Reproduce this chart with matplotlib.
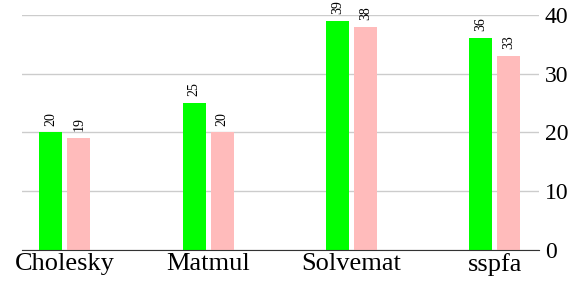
import numpy as np
from matplotlib import pyplot as plt

# data
categories = ['Cholesky', 'Matmul', 'Solvemat', 'sspfa']
green_vals = [20, 25, 39, 36]
pink_vals = [19, 20, 38, 33]

plt.rcParams['font.family'] = ['Liberation Serif', 'DejaVu Serif']

fig = plt.figure(figsize=(5.76, 2.87), dpi=100)
ax = fig.add_axes([0.038, 0.129, 0.898, 0.819])

x = np.arange(len(categories))
w = 0.16
off = 0.098

b1 = ax.bar(x - off, green_vals, w, color='#00ff00', zorder=3)
b2 = ax.bar(x + off, pink_vals, w, color='#ffbbbb', zorder=3)

# value labels above bars
for bars in (b1, b2):
    for b in bars:
        ax.annotate(str(int(b.get_height())), (b.get_x() + b.get_width() / 2, b.get_height()),
                    xytext=(0, 5), textcoords='offset points', rotation=90,
                    ha='center', va='bottom', fontsize=10, annotation_clip=False)

ax.set_xlim(-0.3, 3.31)
ax.set_ylim(0, 40)
ax.set_yticks([0, 10, 20, 30, 40])
ax.yaxis.tick_right()
ax.yaxis.grid(True, color='#cccccc', linewidth=1, zorder=0)
ax.set_xticks(x)
ax.set_xticklabels(categories)
ax.tick_params(axis='both', length=0)
ax.tick_params(axis='y', pad=4, labelsize=17)
ax.tick_params(axis='x', pad=2, labelsize=19)

for s in ['top', 'left', 'right']:
    ax.spines[s].set_visible(False)
ax.spines['bottom'].set_color('#333333')
ax.spines['bottom'].set_zorder(4)

fig.savefig('out.png', dpi=100)
